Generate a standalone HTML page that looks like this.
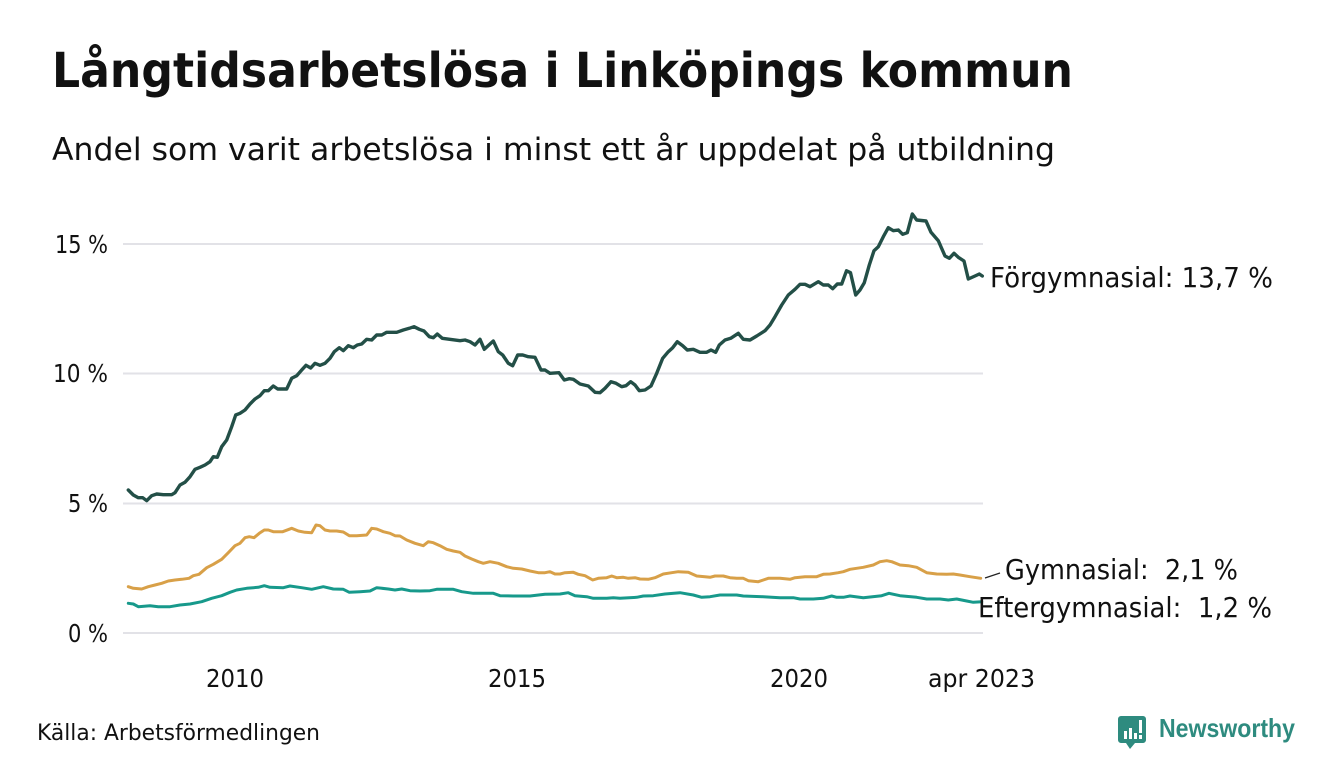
<!DOCTYPE html>
<html>
<head>
<meta charset="utf-8">
<style>
  html, body { margin: 0; padding: 0; background: #ffffff; }
  svg { display: block; }
  text { font-family: "DejaVu Sans", "Liberation Sans", sans-serif; fill: #111111; }
</style>
</head>
<body>
<svg width="1340" height="780" viewBox="0 0 1340 780" xmlns="http://www.w3.org/2000/svg">
  <rect x="0" y="0" width="1340" height="780" fill="#ffffff"/>

  <!-- Title & subtitle -->
  <text x="52" y="87" font-size="48" font-weight="bold" textLength="1021" lengthAdjust="spacingAndGlyphs">Långtidsarbetslösa i Linköpings kommun</text>
  <text x="52" y="160" font-size="31.5" textLength="1003" lengthAdjust="spacingAndGlyphs">Andel som varit arbetslösa i minst ett år uppdelat på utbildning</text>

  <!-- Gridlines -->
  <g stroke="#e2e2e7" stroke-width="2">
    <line x1="123" y1="244" x2="983" y2="244"/>
    <line x1="123" y1="373.5" x2="983" y2="373.5"/>
    <line x1="123" y1="503.5" x2="983" y2="503.5"/>
    <line x1="123" y1="633" x2="983" y2="633"/>
  </g>

  <!-- Y labels -->
  <g font-size="24.5">
    <text x="55" y="253" textLength="53" lengthAdjust="spacingAndGlyphs">15 %</text>
    <text x="53" y="382" textLength="55" lengthAdjust="spacingAndGlyphs">10 %</text>
    <text x="68" y="512" textLength="40" lengthAdjust="spacingAndGlyphs">5 %</text>
    <text x="68" y="642" textLength="40" lengthAdjust="spacingAndGlyphs">0 %</text>
  </g>

  <!-- X labels -->
  <g font-size="24.5">
    <text x="206" y="687" textLength="58" lengthAdjust="spacingAndGlyphs">2010</text>
    <text x="488" y="687" textLength="58" lengthAdjust="spacingAndGlyphs">2015</text>
    <text x="770" y="687" textLength="58" lengthAdjust="spacingAndGlyphs">2020</text>
    <text x="928" y="687" textLength="107" lengthAdjust="spacingAndGlyphs">apr 2023</text>
  </g>

  <!-- Eftergymnasial (teal) -->
  <polyline fill="none" stroke="#17998b" stroke-width="3" stroke-linejoin="round" stroke-linecap="round" points="
128.3,603.3 133.3,604 138.3,606.7 150,605.7 158.3,606.7 170,606.7 180,605 190,604 201.7,601.7 211.7,598.3
221.7,595.7 230,592.3 236.7,590 246.7,588.3 258.3,587.3 264.3,585.7 270,587.3 283.3,587.7 290,586 301.7,587.7
311.7,589.3 323.3,586.7 333.3,589 343.3,589.3 349.3,592.3 360,591.7 370,591 376.7,587.7 388.3,589 395,590
401.7,589 410,590.7 420,591 430,590.7 436.7,589.3 453.3,589.3 461.7,591.7 473.3,593.3 483.3,593.3 493.3,593.3
500,595.7 513.3,596 530,596 545,594.3 560,594 568.3,592.7 575,595.7 586.7,596.7 593.3,598.3 606.7,598.3
613.3,597.7 620,598.3 636.7,597.3 643.3,596 653.3,595.7 665,594 680,592.7 693.3,595 701.7,597.3 710,596.7
720,595 736.7,595 743.3,596 763.3,596.7 780,597.7 793.3,597.7 800,599 813.3,599 823.3,598.3 831.7,596
836.7,597.3 843.3,597.3 850,596 863.3,597.7 881.7,595.7 889,593.3 900,595.7 916.7,597.3 926.7,599 940,599
948.3,600 956.7,599 966.7,601 973.3,602.3 981.7,601.7"/>

  <!-- Gymnasial (gold) -->
  <polyline fill="none" stroke="#d8a048" stroke-width="3" stroke-linejoin="round" stroke-linecap="round" points="
128.3,586.7 133.3,588.3 141.7,589 148.3,586.7 155,585 161.7,583.3 168.3,581 175,580 181.7,579.3 189,578.3
193.3,575.7 199,574.3 206.7,567.7 213.3,564.3 221.7,559.3 228.3,552.7 235,545.7 240,543.3 245,537.7 249.3,536.7
254,537.7 259.3,533.3 264.3,530 268.3,530 273.3,531.7 282.7,531.7 291.7,528.3 298.3,531 305,532.3 311.7,532.7
316,525 320,525.7 325,530 330,531 336.7,531 343.3,532 349.3,535.7 356.7,535.7 366.7,535 371.7,528.3
376.7,529 383.3,531.7 390,533.3 395,535.7 400,536 406.7,540 415,543.3 423.3,545.7 428.3,541.7 433.3,542.7
440,545.7 446.7,549.3 453.3,551 460,552.3 465,556 471.7,559 478.3,561.7 483.3,563.3 490,561.7 498.3,563.3
506.7,566.7 513.3,568.3 521.7,569 530,571 538.3,572.7 545,572.7 550,571.7 555,574 560,574 565,572.7
573.3,572.3 578.3,574.3 585,575.7 592.7,580 598.3,578.3 606.7,577.7 611.7,576 616.7,577.7 623.3,577.3 628.3,578.3
635,577.7 640,579 648.3,579.3 655,577.7 663.3,574 671.7,572.7 678.3,571.7 688.3,572.3 696.7,576 705,576.7
710,577.3 715,576 723.3,576 730,577.7 736.7,578.3 743.3,578.3 748.3,580.7 758.3,581.7 763.3,580 768.3,578.3
780,578.3 790,579.3 795,577.7 805,576.7 816.7,576.7 823.3,574.3 830,574 838.3,572.7 843.3,571.7 850,569.3
863.3,567.3 873.3,565 880,561.7 886.7,560.7 891.7,561.7 900,565 908.3,565.7 916.7,567.3 926.7,572.7 936.7,574
946.7,574.3 953.3,574 960,575 970,576.7 980.7,578.3"/>

  <!-- Förgymnasial (dark green) -->
  <polyline fill="none" stroke="#234f47" stroke-width="3.4" stroke-linejoin="round" stroke-linecap="round" points="
128.3,490 133.3,495 138.3,497.7 142.7,497.7 146.7,500.7 151.7,495.7 156.7,494 163.3,494.7 171.7,494.7 175,492.7
180,485 185,482.3 190,476.7 195,469.3 200,467.3 205,465 210,461.7 213.3,456.7 217.3,457.3 221.7,446.7
226.7,440 231.7,426.7 235.7,415 240,413.3 245,410 250,404 255,399 260,395.7 264.3,390.7 268.3,390.7
273.3,386 277.7,389 286.7,389 291.7,378.3 296.7,375.7 301.7,370 306,365.3 310.7,368 315,363.3 320,365.3
325,363.3 330,358.3 334.3,351.7 339.3,347.7 343.3,350.7 348.3,345.7 353.3,347.7 357.3,345 361.7,344 366.7,339.3
371.7,340 376.7,335 381.7,335 386.7,332.3 396.7,332.3 403.3,330 409.3,328.3 414,326.7 419.3,329.3 424,331
429.3,336.7 433.3,337.7 437.3,334 442.3,338.3 460,340.7 465,340 470,341.7 475,345 480,339.3 484.3,349.3
490,344 493.3,341 498.3,351.7 502.7,355 508.3,363.3 512.7,365.7 517.7,355 522.7,355 528.3,356.7 535,357.3
541,370 545,370 550,373.3 559,372.7 564.3,380 569.3,378.7 573.3,379.3 580,384 588.3,386 595,392.3
600,392.7 605,388.3 611,381.7 616,383.3 621.7,386.7 626,385.7 630.7,381.7 635,385 639.3,390.7 645,390
651,386 656.7,373.3 662.7,358.3 668.3,351.7 672.7,347.7 677.3,341.7 682.7,345.7 687.3,350 693.3,349.3 700,352.3
706.7,352.3 711,350 715.7,352.3 719.3,345 725,340 730.7,338.3 738.3,333.3 743.3,339.3 750,340 756.7,336
765,330.7 770,325 775,316.7 781.7,305 788.3,295 795,289.3 800,284.3 805,284.3 810,286.7 818.3,281.7
823.3,285 828.3,285 832.7,288.7 837.3,284 841.7,284 846.5,270.8 850.5,272.7 855.7,295 860,290 864.3,282.7
869.3,265 874,250.7 878.3,246.7 883.3,236.7 888.3,227.7 893.3,230.7 898.3,230 902.7,234.3 907.3,232.7 912.3,214
916.7,220 926,221 931,232.3 938.3,240.7 945,256 949.3,258.3 954,253.3 958.3,257.3 964,261 968.3,279
975,276 979.3,274 982.3,276"/>

  <!-- Connector for Gymnasial -->
  <line x1="985" y1="578" x2="1000" y2="573" stroke="#222222" stroke-width="1.2"/>

  <!-- Series labels -->
  <g font-size="28">
    <text x="990" y="287" textLength="283" lengthAdjust="spacingAndGlyphs">Förgymnasial: 13,7 %</text>
    <text x="1005" y="579" textLength="233" lengthAdjust="spacingAndGlyphs" xml:space="preserve">Gymnasial:  2,1 %</text>
    <text x="978" y="617" textLength="294" lengthAdjust="spacingAndGlyphs" xml:space="preserve">Eftergymnasial:  1,2 %</text>
  </g>

  <!-- Source -->
  <text x="37" y="740" font-size="22" textLength="283" lengthAdjust="spacingAndGlyphs">Källa: Arbetsförmedlingen</text>

  <!-- Newsworthy logo -->
  <g>
    <path d="M1121,716 h22 a3,3 0 0 1 3,3 v21 a3,3 0 0 1 -3,3 h-8 l-5,6 l-4,-6 h-5 a3,3 0 0 1 -3,-3 v-21 a3,3 0 0 1 3,-3 z" fill="#2e8b7f"/>
    <rect x="1124" y="731" width="3" height="8" fill="#ffffff"/>
    <rect x="1129" y="728" width="3" height="11" fill="#ffffff"/>
    <rect x="1134" y="733" width="3" height="6" fill="#ffffff"/>
    <rect x="1139" y="720" width="3" height="13" fill="#ffffff"/>
    <rect x="1139" y="735" width="3" height="4" fill="#ffffff"/>
    <text x="1159" y="737" font-size="26" font-weight="bold" style="fill:#2e8b7f; font-family:'Liberation Sans', sans-serif" textLength="136" lengthAdjust="spacingAndGlyphs">Newsworthy</text>
  </g>
</svg>
</body>
</html>
